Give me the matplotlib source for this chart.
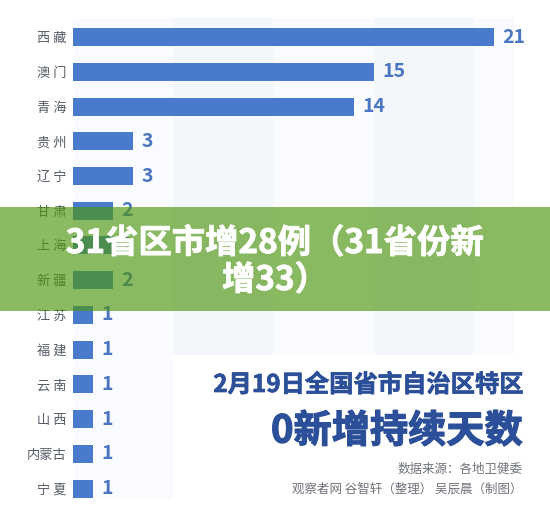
import matplotlib
matplotlib.use("Agg")
import matplotlib.pyplot as plt
import matplotlib.patheffects as pe
from matplotlib.patches import Rectangle

plt.rcParams['font.family'] = ['Noto Sans CJK SC', 'DejaVu Sans']

# data
provinces = ['西 藏', '澳 门', '青 海', '贵 州', '辽 宁', '甘 肃', '上 海', '新 疆',
             '江 苏', '福 建', '云 南', '山 西', '内蒙古', '宁 夏']
cases = [21, 15, 14, 3, 3, 2, 2, 2, 1, 1, 1, 1, 1, 1]

banner_title = '31省区市增28例（31省份新\n增33）'
title_line1 = '2月19日全国省市自治区特区'
title_line2 = '0新增持续天数'
source_line1 = '数据来源：各地卫健委'
source_line2 = '观察者网 谷智轩（整理） 吴辰晨（制图）'

bar_color = '#4a7acb'
label_color = '#4a76c2'
navy = '#2b4f98'

fig = plt.figure(figsize=(5.5, 5.18), dpi=100)
ax = fig.add_axes([73 / 550, 1 - 500 / 518, 441 / 550, 482 / 518])

# faint vertical bands behind the bars
band_edges = [0, 5, 10, 15, 20, 22]
for i in range(len(band_edges) - 1):
    c = '#fafbfe' if i % 2 == 0 else '#f3f6fb'
    ax.axvspan(band_edges[i], band_edges[i + 1], color=c, lw=0, zorder=0)

y = list(range(len(provinces)))
ax.barh(y, cases, height=0.52, color=bar_color, zorder=2)
for yi, v in zip(y, cases):
    ax.text(v + 0.42, yi, str(v), va='center', ha='left', fontsize=14,
            color=label_color, fontweight='bold', zorder=3)

ax.set_xlim(0, 22)
ax.set_ylim(13.33, -0.55)
ax.set_yticks(y)
ax.set_yticklabels(provinces, fontsize=9.5, color='#565d66')
ax.tick_params(axis='y', length=0, pad=5)
ax.set_xticks([])
for s in ax.spines.values():
    s.set_visible(False)

# white box behind the lower-right titles
fig.patches.append(Rectangle((173 / 550, 0), 1, 1 - 355 / 518, transform=fig.transFigure,
                             facecolor='white', edgecolor='none', zorder=2))

# green banner on top
fig.patches.append(Rectangle((0, 1 - 311 / 518), 1, 104 / 518, transform=fig.transFigure,
                             facecolor=(0.30, 0.59, 0.05), alpha=0.65, edgecolor='none', zorder=3))
fig.text(0.5, 1 - 262 / 518, banner_title, ha='center', va='center', fontsize=24,
         fontweight='bold', color='white', linespacing=1.15, zorder=4,
         path_effects=[pe.withStroke(linewidth=0.6, foreground='white')])

fig.text(523 / 550, 1 - 385 / 518, title_line1, ha='right', va='center', fontsize=17.5,
         fontweight='bold', color=navy, zorder=4,
         path_effects=[pe.withStroke(linewidth=0.5, foreground=navy)])
fig.text(523 / 550, 1 - 431 / 518, title_line2, ha='right', va='center', fontsize=27.5,
         fontweight='bold', color=navy, zorder=4,
         path_effects=[pe.withStroke(linewidth=0.9, foreground=navy)])
fig.text(523 / 550, 1 - 469 / 518, source_line1, ha='right', va='center', fontsize=9,
         color='#6f737a', zorder=4)
fig.text(523 / 550, 1 - 489 / 518, source_line2, ha='right', va='center', fontsize=9,
         color='#6f737a', zorder=4)

fig.savefig('out.png', dpi=100)
plt.close(fig)
